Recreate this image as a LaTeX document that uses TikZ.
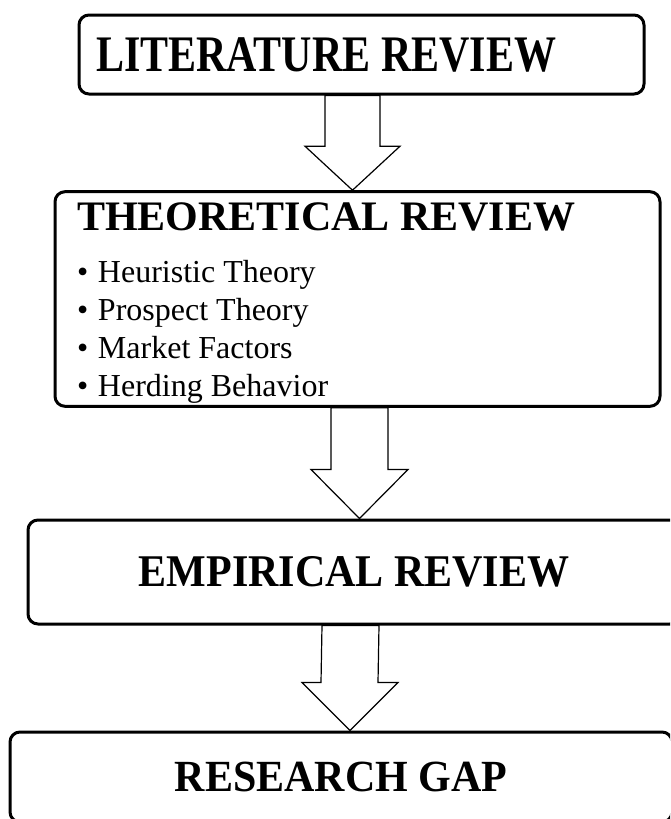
\documentclass[tikz,border=0pt]{standalone}
\usepackage{fontspec}
\setmainfont{Liberation Serif}
\usetikzlibrary{calc}

\begin{document}
\begin{tikzpicture}[x=1pt,y=-1pt,>=latex]
        \tikzstyle{review}=[rectangle, rounded corners=10pt, draw=black, line width=3pt, fill=white, inner xsep=17pt, font=\fontsize{42}{48}\selectfont\bfseries]
        \tikzstyle{fatarrow}=[draw=black, line width=1.2pt, fill=white, line join=miter]
        \useasboundingbox (0,0) rectangle (670,819);
        \clip (0,0) rectangle (670,819);
        \node[review, minimum width=565pt, minimum height=79pt, text width=531pt, align=flush left] (literature) at (361.5,54.5) {\scalebox{1}[1.22]{LITERATURE REVIEW}};
        \node[review, minimum width=605pt, minimum height=214pt, inner xsep=22pt, text width=561pt, align=flush left] (theoretical) at (357.5,299) {\rule{0pt}{35pt}THEORETICAL REVIEW\\[14pt]
            \fontsize{32}{38}\selectfont\mdseries
            \makebox[21pt][l]{\textbullet}Heuristic Theory\\
            \makebox[21pt][l]{\textbullet}Prospect Theory\\
            \makebox[21pt][l]{\textbullet}Market Factors\\
            \makebox[21pt][l]{\textbullet}Herding Behavior\par};
        \node[review, minimum width=652pt, minimum height=104pt, align=center] (empirical) at (354,572) {\scalebox{1}[1.08]{EMPIRICAL REVIEW}};
        \node[review, minimum width=662pt, minimum height=90pt, align=center] (gap) at (341,777) {\scalebox{1}[1.06]{RESEARCH GAP}};
        \draw[fatarrow] let \p1=(literature.south), \p2=(theoretical.north) in
            (325pt,\y1) -- (380pt,\y1) -- (380pt,\y2+44pt) -- (400pt,\y2+44pt) -- (352.5pt,\y2) -- (305pt,\y2+44pt) -- (325pt,\y2+44pt) -- cycle;
        \draw[fatarrow] let \p1=(theoretical.south), \p2=(empirical.north) in
            (331pt,\y1) -- (388pt,\y1) -- (388pt,\y2+49pt) -- (408pt,\y2+49pt) -- (359.5pt,\y2) -- (311pt,\y2+49pt) -- (331pt,\y2+49pt) -- cycle;
        \draw[fatarrow] let \p1=(empirical.south), \p2=(gap.north) in
            (322pt,\y1) -- (379pt,\y1) -- (378pt,\y2+48pt) -- (398pt,\y2+48pt) -- (350pt,\y2) -- (302pt,\y2+48pt) -- (321pt,\y2+48pt) -- cycle;
    \end{tikzpicture}
\end{document}
